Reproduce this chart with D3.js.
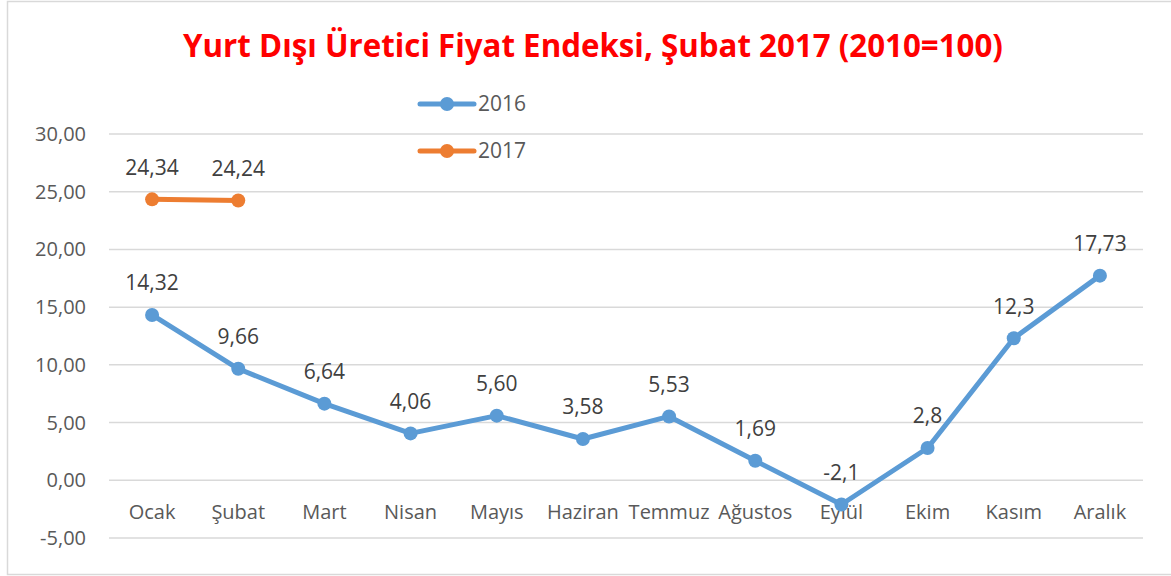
<!DOCTYPE html>
<html lang="tr">
<head>
<meta charset="utf-8">
<title>Yurt Dışı Üretici Fiyat Endeksi</title>
<script src="https://cdn.jsdelivr.net/npm/d3@7"></script>
<style>
  body { margin: 0; background: #fff; }
  text { font-family: "Open Sans", "Noto Sans", sans-serif; }
</style>
</head>
<body>
<div id="viz"></div>
<script>
// values
var months = ["Ocak", "Şubat", "Mart", "Nisan", "Mayıs", "Haziran", "Temmuz", "Ağustos", "Eylül", "Ekim", "Kasım", "Aralık"];
var values2016 = [14.32, 9.66, 6.64, 4.06, 5.60, 3.58, 5.53, 1.69, -2.1, 2.8, 12.3, 17.73];
var labels2016 = ["14,32", "9,66", "6,64", "4,06", "5,60", "3,58", "5,53", "1,69", "-2,1", "2,8", "12,3", "17,73"];
var values2017 = [24.34, 24.24];
var labels2017 = ["24,34", "24,24"];
var yTicks = [-5, 0, 5, 10, 15, 20, 25, 30];

var w = 1171, h = 576;

var svg = d3.select("#viz").append("svg")
  .attr("width", w)
  .attr("height", h);

// chart border
svg.append("rect")
  .attr("x", 7.5).attr("y", 1.5)
  .attr("width", w).attr("height", 573)
  .attr("fill", "none")
  .attr("stroke", "#d9d9d9")
  .attr("stroke-width", 1.5);

var x = d3.scaleBand().domain(months).range([109, 1143]);
var y = d3.scaleLinear().domain([-5, 30]).range([538, 134]);

// gridlines
svg.append("g").selectAll("line")
  .data(yTicks).enter().append("line")
  .attr("x1", 109).attr("x2", 1143)
  .attr("y1", d => y(d)).attr("y2", d => y(d))
  .attr("stroke", "#d9d9d9")
  .attr("stroke-width", 1.5);

// y axis labels
svg.append("g").selectAll("text")
  .data(yTicks).enter().append("text")
  .attr("x", 86).attr("y", d => y(d))
  .attr("dy", "0.35em")
  .attr("text-anchor", "end")
  .attr("font-size", 20)
  .attr("fill", "#595959")
  .text(d => d.toFixed(2).replace(".", ","));

// x axis labels
svg.append("g").selectAll("text")
  .data(months).enter().append("text")
  .attr("x", d => x(d) + x.bandwidth() / 2)
  .attr("y", 512)
  .attr("dy", "0.35em")
  .attr("text-anchor", "middle")
  .attr("font-size", 20)
  .attr("fill", "#595959")
  .text(d => d);

var line = d3.line()
  .x((d, i) => x(months[i]) + x.bandwidth() / 2)
  .y(d => y(d));

function drawSeries(vals, labels, color) {
  svg.append("path")
    .datum(vals)
    .attr("d", line)
    .attr("fill", "none")
    .attr("stroke", color)
    .attr("stroke-width", 5)
    .attr("stroke-linejoin", "round");

  svg.append("g").selectAll("circle")
    .data(vals).enter().append("circle")
    .attr("cx", (d, i) => x(months[i]) + x.bandwidth() / 2)
    .attr("cy", d => y(d))
    .attr("r", 7)
    .attr("fill", color);

  svg.append("g").selectAll("text")
    .data(vals).enter().append("text")
    .attr("x", (d, i) => x(months[i]) + x.bandwidth() / 2)
    .attr("y", d => y(d) - 32)
    .attr("dy", "0.35em")
    .attr("text-anchor", "middle")
    .attr("font-size", 21)
    .attr("fill", "#404040")
    .text((d, i) => labels[i]);
}

drawSeries(values2016, labels2016, "#5b9bd5");
drawSeries(values2017, labels2017, "#ed7d31");

// legend
var legend = [{name: "2016", color: "#5b9bd5", y: 104}, {name: "2017", color: "#ed7d31", y: 151}];
var lg = svg.append("g").selectAll("g").data(legend).enter().append("g");
lg.append("line")
  .attr("x1", 420).attr("x2", 474)
  .attr("y1", d => d.y).attr("y2", d => d.y)
  .attr("stroke", d => d.color)
  .attr("stroke-width", 5)
  .attr("stroke-linecap", "round");
lg.append("circle")
  .attr("cx", 447).attr("cy", d => d.y)
  .attr("r", 7)
  .attr("fill", d => d.color);
lg.append("text")
  .attr("x", 478).attr("y", d => d.y)
  .attr("dy", "0.35em")
  .attr("font-size", 21)
  .attr("fill", "#595959")
  .text(d => d.name);

// title
var title = svg.append("text")
  .attr("x", 593).attr("y", 46)
  .attr("dy", "0.35em")
  .attr("text-anchor", "middle")
  .attr("font-size", 30)
  .attr("font-weight", "bold")
  .attr("fill", "#ff0000")
  .text("Yurt Dışı Üretici Fiyat Endeksi, Şubat 2017 (2010=100)");
var tw = title.node().getComputedTextLength();
title.attr("font-size", 30 * 820 / tw);
</script>
</body>
</html>
